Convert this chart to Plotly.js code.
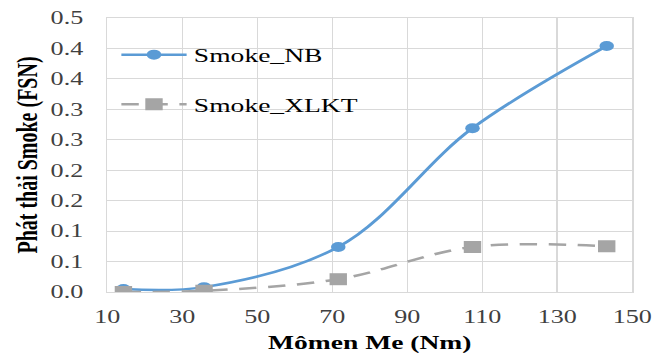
<!DOCTYPE html>
<html>
<head>
<meta charset="utf-8">
<script src="https://cdn.plot.ly/plotly-3.0.1.min.js"></script>
<style>
  html, body { margin: 0; padding: 0; overflow: hidden; background: #fff; }
  #wrap { width: 670px; height: 358px; overflow: hidden; }
  /* the chart is laid out narrow and widened horizontally */
  #chart { width: 462px; height: 358px; transform: scaleX(1.45); transform-origin: 0 0; }
</style>
</head>
<body>
<div id="wrap"><div id="chart"></div></div>
<script>
// Torque (Nm) at the measured load points
const torque = [14.3, 35.8, 71.6, 107.4, 143.2];
// Smoke emission (FSN)
const smokeNB = [0.005, 0.008, 0.074, 0.269, 0.404];
const smokeXLKT = [0.000, 0.002, 0.021, 0.074, 0.075];

const yTickVals = [0, 0.05, 0.10, 0.15, 0.20, 0.25, 0.30, 0.35, 0.40, 0.45];
const yTickText = ["0.0", "0.1", "0.1", "0.2", "0.2", "0.3", "0.3", "0.4", "0.4", "0.5"];
const xTickVals = [10, 30, 50, 70, 90, 110, 130, 150];

const serif = "Liberation Serif";

const traces = [
  {
    x: torque, y: smokeNB, name: "Smoke_NB", legendgroup: "a",
    type: "scatter", mode: "lines+markers",
    line: { color: "#5b9bd5", width: 2.5, shape: "spline", smoothing: 1 },
    marker: { symbol: "circle", size: 10, color: "#5b9bd5" }
  },
  {
    x: torque, y: smokeXLKT, name: "Smoke_XLKT", legendgroup: "b",
    type: "scatter", mode: "lines+markers",
    line: { color: "#a5a5a5", width: 2.5, shape: "spline", smoothing: 1, dash: "12px,8px" },
    marker: { symbol: "square", size: 12, color: "#a5a5a5" }
  }
];

const layout = {
  width: 462, height: 358,
  margin: { l: 74, r: 26, t: 18, b: 66 },
  paper_bgcolor: "#fff", plot_bgcolor: "#fff",
  font: { family: serif, size: 18, color: "#404040" },
  showlegend: true,
  legend: {
    x: 0.013, y: 0.935, xanchor: "left", yanchor: "top",
    bgcolor: "rgba(255,255,255,0)",
    font: { family: serif, size: 19, color: "#000" },
    traceorder: "grouped", tracegroupgap: 22,
    itemwidth: 45
  },
  xaxis: {
    range: [10, 150], tickvals: xTickVals,
    showgrid: true, gridcolor: "#d9d9d9", gridwidth: 1,
    zeroline: false, showline: true, linecolor: "#d9d9d9", mirror: true,
    ticks: "", ticklabelstandoff: 8,
    tickfont: { family: serif, size: 18, color: "#404040" },
    title: { text: "Mômen Me (Nm)", font: { family: serif, size: 19, color: "#000", weight: "bold" }, standoff: 10 }
  },
  yaxis: {
    range: [0, 0.45], tickvals: yTickVals, ticktext: yTickText,
    showgrid: true, gridcolor: "#d9d9d9", gridwidth: 1,
    zeroline: false, showline: true, linecolor: "#d9d9d9", mirror: true,
    ticks: "", ticklabelstandoff: 12,
    tickfont: { family: serif, size: 18, color: "#404040" },
    title: { text: "Phát thải Smoke (FSN)", font: { family: serif, size: 20, color: "#000", weight: "bold" }, standoff: 3 }
  }
};

Plotly.newPlot("chart", traces, layout, { displayModeBar: false, staticPlot: true });
</script>
</body>
</html>
